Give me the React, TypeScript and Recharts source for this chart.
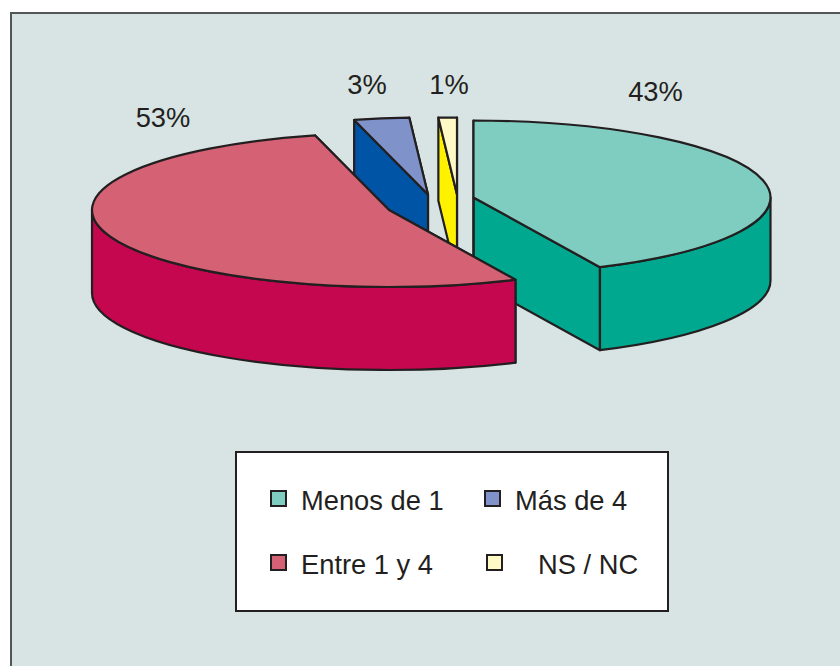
import React from "react";
import { PieChart, Pie, Legend } from "recharts";

// Painted back to front: the red slice overlaps all the others.
const names = ["Más de 4", "NS / NC", "Menos de 1", "Entre 1 y 4"];
const shares = [3, 1, 43, 53];
const legendRows = [
  ["Menos de 1", "Más de 4"],
  ["Entre 1 y 4", "NS / NC"],
];

const topColors: Record<string, string> = {
  "Menos de 1": "#7fccc0",
  "Entre 1 y 4": "#d56274",
  "Más de 4": "#7f92ca",
  "NS / NC": "#fff9c5",
};
const sideColors: Record<string, string> = {
  "Menos de 1": "#00a88f",
  "Entre 1 y 4": "#c4074f",
  "Más de 4": "#0054a6",
  "NS / NC": "#fff200",
};
// Per-slice explode offset from the pie centre, and label offset from the slice apex.
const explode: Record<string, [number, number]> = {
  "Menos de 1": [43.5, -2.5],
  "Entre 1 y 4": [-41, 10],
  "Más de 4": [-2, -5.5],
  "NS / NC": [27, -5.5],
};
const labelOffset: Record<string, [number, number]> = {
  "Menos de 1": [182, -96.5],
  "Entre 1 y 4": [-226, -83],
  "Más de 4": [-61, -100.5],
  "NS / NC": [-8, -100.5],
};

const INK = "#231f20";
const SQUASH = 77 / 297;
const DEPTH = 83;
const FONT_SIZE = 27.3;

const data = names.map((name, i) => ({ name, value: shares[i], fill: topColors[name] }));

function SliceShape(props: any) {
  const { cx, cy, outerRadius, startAngle, endAngle, name, payload } = props;
  const key = name ?? payload?.name;
  const [dx, dy] = explode[key];
  const ax = cx + dx;
  const ay = cy + dy;
  const rx = outerRadius;
  const ry = outerRadius * SQUASH;
  let a0 = Math.round((90 - startAngle) * 1e5) / 1e5;
  let a1 = Math.round((90 - endAngle) * 1e5) / 1e5;
  while (a0 >= 360) {
    a0 -= 360;
    a1 -= 360;
  }
  const pt = (a: number, drop = 0): [number, number] => {
    const t = (a * Math.PI) / 180;
    return [ax + rx * Math.sin(t), ay - ry * Math.cos(t) + drop];
  };
  const arc = (from: number, to: number, drop = 0, sweep = 1) => {
    const [x, y] = pt(to, drop);
    const large = Math.abs(to - from) > 180 ? 1 : 0;
    return `A${rx} ${ry} 0 ${large} ${sweep} ${x} ${y}`;
  };
  const face = (a: number) => {
    const [x, y] = pt(a);
    return `M${ax} ${ay}L${x} ${y}L${x} ${y + DEPTH}L${ax} ${ay + DEPTH}Z`;
  };
  const lo = Math.max(a0, 90);
  const hi = Math.min(a1, 270);
  const common = { stroke: INK, strokeWidth: 2.2, strokeLinejoin: "round" as const };
  const side = sideColors[key];
  const [sx, sy] = pt(a0);
  const top = `M${ax} ${ay}L${sx} ${sy}${arc(a0, a1)}Z`;
  let rim = "";
  if (hi > lo) {
    const [x0, y0] = pt(lo);
    const [x1, y1] = pt(hi);
    rim = `M${x0} ${y0}${arc(lo, hi)}L${x1} ${y1 + DEPTH}${arc(hi, lo, DEPTH, 0)}Z`;
  }
  return (
    <g>
      <path d={face(a1)} fill={side} {...common} />
      <path d={face(a0)} fill={side} {...common} />
      {rim && <path d={rim} fill={side} {...common} />}
      <path d={top} fill={topColors[key]} {...common} />
    </g>
  );
}

function SliceLabel(props: any) {
  const { cx, cy, name, value, payload } = props;
  const key = name ?? payload?.name;
  const [ex, ey] = explode[key];
  const [lx, ly] = labelOffset[key];
  return (
    <text
      x={cx + ex + lx}
      y={cy + ey + ly}
      textAnchor="middle"
      fontFamily="'Liberation Sans', Arial, sans-serif"
      fontSize={FONT_SIZE}
      fill={INK}
    >
      {`${value}%`}
    </text>
  );
}

const swatchColumns = [35, 249];
const textColumns = [66, 280];
const rowTops = [39, 103];

function LegendBox() {
  return (
    <div
      style={{
        position: "relative",
        width: 434,
        height: 161,
        boxSizing: "border-box",
        background: "#ffffff",
        border: `2px solid ${INK}`,
        fontFamily: "'Liberation Sans', Arial, sans-serif",
        fontSize: FONT_SIZE,
        color: INK,
      }}
    >
      {legendRows.map((row, r) =>
        row.map((name, c) => {
          const isNs = name === "NS / NC";
          return (
            <React.Fragment key={name}>
              <div
                style={{
                  position: "absolute",
                  left: swatchColumns[c] - 2 + (isNs ? 2 : 0),
                  top: rowTops[r] - 2,
                  width: 17,
                  height: 17,
                  boxSizing: "border-box",
                  background: topColors[name],
                  border: `2px solid ${INK}`,
                }}
              />
              <div
                style={{
                  position: "absolute",
                  left: textColumns[c] - 2 + (isNs ? 23 : 0),
                  top: rowTops[r] - 7,
                  lineHeight: "32px",
                  whiteSpace: "nowrap",
                }}
              >
                {name}
              </div>
            </React.Fragment>
          );
        })
      )}
    </div>
  );
}

export default function App() {
  return (
    <div style={{ position: "fixed", left: 0, top: 0, width: 840, height: 666, background: "#ffffff", overflow: "hidden" }}>
      <div
        style={{
          position: "absolute",
          left: 10,
          top: 11.5,
          width: 830,
          height: 655,
          boxSizing: "border-box",
          background: "#d7e4e3",
          borderLeft: "2px solid #555555",
          borderTop: "2px solid #555555",
        }}
      />
      <div style={{ position: "absolute", left: 0, top: 0 }}>
        <PieChart width={840} height={666} margin={{ top: 0, right: 0, bottom: 0, left: 0 }}>
          <Pie
            data={data}
            dataKey="value"
            nameKey="name"
            cx={430}
            cy={200}
            outerRadius={297}
            startAngle={-255.6}
            endAngle={-615.6}
            stroke="none"
            isAnimationActive={false}
            shape={SliceShape}
            label={SliceLabel}
            labelLine={false}
          />
          <Legend
            content={() => <LegendBox />}
            wrapperStyle={{ position: "absolute", left: 235, top: 451, width: 434, height: 161, bottom: "auto", right: "auto", margin: 0 }}
          />
        </PieChart>
      </div>
    </div>
  );
}
